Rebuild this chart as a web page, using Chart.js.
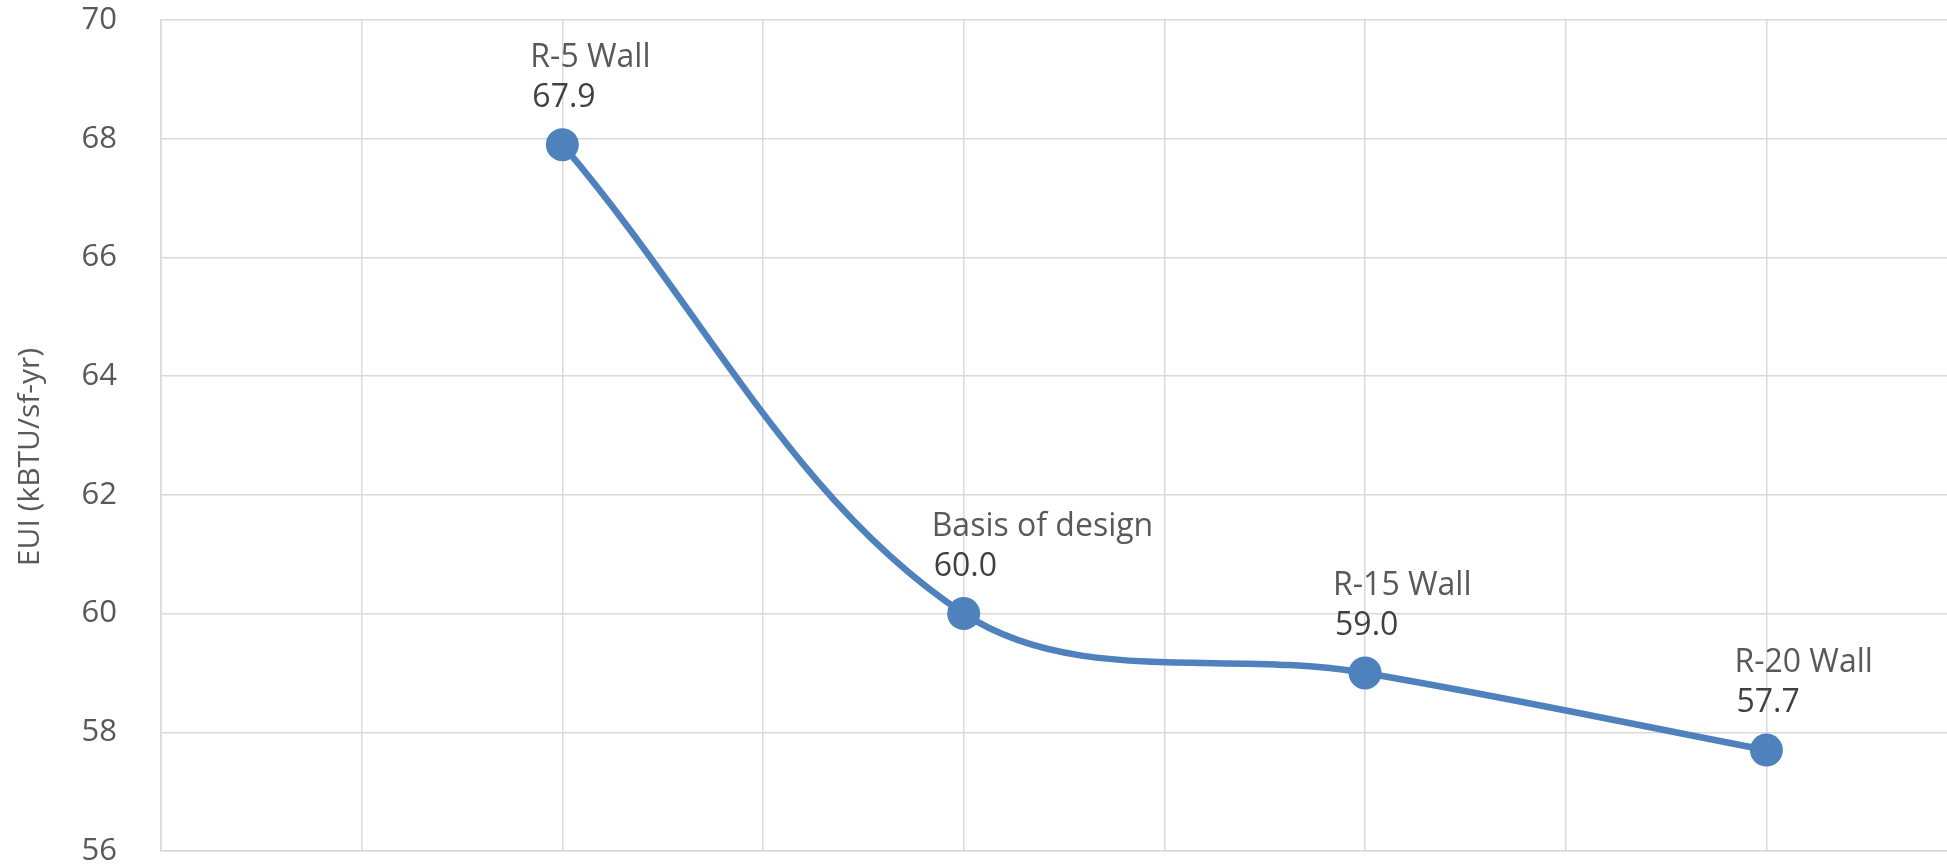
<!DOCTYPE html>
<html>
<head>
<meta charset="utf-8">
<title>EUI by wall insulation</title>
<script src="https://cdn.jsdelivr.net/npm/chart.js@4"></script>
<style>
  html, body { margin: 0; padding: 0; background: #ffffff; overflow: hidden; }
  #wrap { width: 1947px; height: 866px; }
</style>
</head>
<body>
<div id="wrap"><canvas id="eui" width="1947" height="866"></canvas></div>
<script>
// Wall insulation options and their energy use intensity
const optionNames = ['R-5 Wall', 'Basis of design', 'R-15 Wall', 'R-20 Wall'];
const optionX = [2, 4, 6, 8];
const euiValues = [67.9, 60.0, 59.0, 57.7];
const yTicks = [56, 58, 60, 62, 64, 66, 68, 70];
const yTitle = 'EUI (kBTU/sf-yr)';

const FONT = '"Open Sans", "DejaVu Sans", sans-serif';
const BLUE = '#4F81BD';
const GRID = '#d9d9d9';

const points = optionX.map((x, i) => ({ x: x, y: euiValues[i] }));

// Two-line labels (name over value) placed above and slightly left of each marker
const pointLabels = {
  id: 'pointLabels',
  afterDatasetsDraw(chart) {
    const ctx = chart.ctx;
    const meta = chart.getDatasetMeta(0);
    ctx.save();
    ctx.textAlign = 'left';
    ctx.textBaseline = 'alphabetic';
    meta.data.forEach((el, i) => {
      const lx = el.x - 32;
      ctx.font = '32px ' + FONT;
      ctx.fillStyle = '#595959';
      ctx.fillText(optionNames[i], lx, el.y - 78);
      ctx.fillStyle = '#404040';
      ctx.fillText(euiValues[i].toFixed(1), lx + 2, el.y - 38);
    });
    ctx.restore();
  }
};

// Rotated y-axis title
const axisTitle = {
  id: 'axisTitle',
  afterDraw(chart) {
    const ctx = chart.ctx;
    ctx.save();
    ctx.translate(30, 457);
    ctx.rotate(-Math.PI / 2);
    ctx.font = '30px ' + FONT;
    ctx.fillStyle = '#595959';
    ctx.textAlign = 'center';
    ctx.textBaseline = 'middle';
    ctx.fillText(yTitle, 0, 0);
    ctx.restore();
  }
};

new Chart(document.getElementById('eui'), {
  type: 'scatter',
  data: {
    datasets: [{
      label: 'EUI',
      data: points,
      showLine: true,
      borderColor: BLUE,
      borderWidth: 6.5,
      tension: 0.35,
      pointRadius: 16.5,
      pointHoverRadius: 16.5,
      pointBackgroundColor: BLUE,
      pointBorderColor: BLUE,
      pointBorderWidth: 0
    }]
  },
  options: {
    responsive: false,
    devicePixelRatio: 1,
    animation: false,
    layout: { autoPadding: false, padding: { top: 20, bottom: 15, left: 0, right: 0 } },
    plugins: {
      legend: { display: false },
      tooltip: { enabled: false }
    },
    scales: {
      x: {
        type: 'linear',
        min: 0,
        max: 8.9,
        ticks: { display: false, stepSize: 1 },
        grid: { color: GRID, lineWidth: 1.5, drawTicks: false },
        border: { color: GRID, width: 1.5 },
        afterBuildTicks(scale) {
          scale.ticks = scale.ticks.filter(t => Number.isInteger(t.value));
        },
        afterFit(scale) { scale.height = 0; }
      },
      y: {
        type: 'linear',
        min: yTicks[0],
        max: yTicks[yTicks.length - 1],
        afterBuildTicks(scale) {
          scale.ticks = yTicks.map(v => ({ value: v }));
        },
        ticks: {
          padding: 44,
          color: '#595959',
          font: { family: FONT, size: 31 }
        },
        grid: { color: GRID, lineWidth: 1.5, drawTicks: false },
        border: { color: GRID, width: 1.5 },
        afterFit(scale) {
          scale.width = 161;
          scale.paddingTop = 0;
          scale.paddingBottom = 0;
        }
      }
    }
  },
  plugins: [pointLabels, axisTitle]
});
</script>
</body>
</html>
